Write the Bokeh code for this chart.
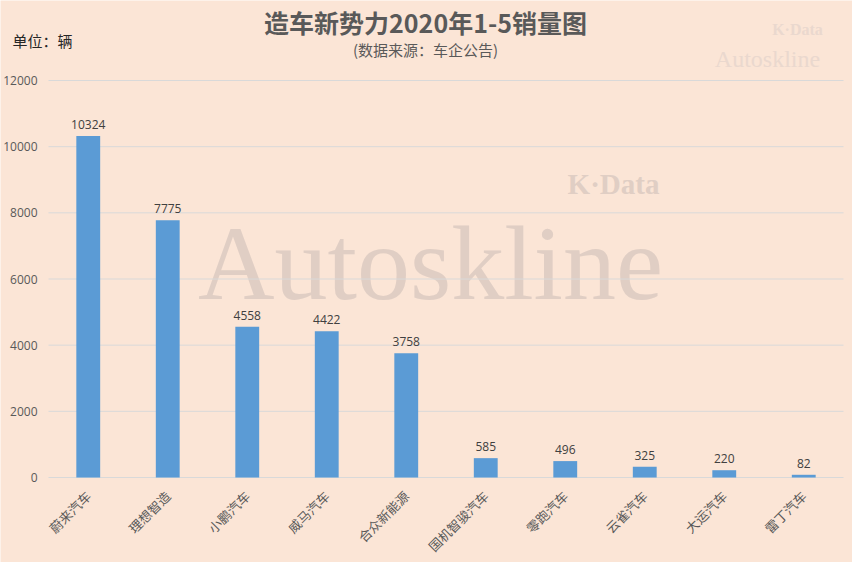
import math
from bokeh.plotting import figure
from bokeh.models import ColumnDataSource, Label, LabelSet, Range1d
from bokeh.core.properties import value
from bokeh.embed import file_html
from bokeh.resources import INLINE

# ---- data ----
brands = ["蔚来汽车", "理想智造", "小鹏汽车", "威马汽车", "合众新能源",
          "国机智骏汽车", "零跑汽车", "云雀汽车", "大运汽车", "雷丁汽车"]
sales = [10324, 7775, 4558, 4422, 3758, 585, 496, 325, 220, 82]
y_ticks = [0, 2000, 4000, 6000, 8000, 10000, 12000]

title_text = "造车新势力2020年1-5销量图"
subtitle_text = "(数据来源：车企公告)"
unit_text = "单位：辆"

BG = "#FBE5D6"
BAR = "#5B9BD5"
GRID = "#D9D9D9"
CJK = "Noto Sans CJK SC"
WM = "#E0CEC4"
WM2 = "#EAD8CE"

# ---- layout constants (pixels) ----
W, H = 852, 562
PL, PR = 48, 9          # plot-area left / right gaps
BASE_PX = 477           # canvas y of the zero line
TOP_PX = 80             # canvas y of the top gridline
CAT_GAP = 16            # gap between zero line and category label anchors
YMAX = 12000

n = len(brands)
pos = list(range(n))                       # category slots
step = (W - PL - PR) / n                   # px per category
x_lo = -0.5 - PL / step
x_hi = (n - 0.5) + PR / step
dpp = YMAX / (BASE_PX - TOP_PX)            # data units per pixel
y_lo = -(H - BASE_PX) * dpp
y_hi = YMAX + TOP_PX * dpp

src = ColumnDataSource(dict(x=pos, brand=brands, sales=sales,
                            lbl=[str(v) for v in sales]))
tick_src = ColumnDataSource(dict(y=y_ticks, lbl=[str(t) for t in y_ticks]))
cat_src = ColumnDataSource(dict(x=pos, brand=brands))

p = figure(width=W, height=H, x_range=Range1d(x_lo, x_hi),
           y_range=Range1d(y_lo, y_hi), output_backend="svg",
           toolbar_location=None, x_axis_type=None, y_axis_type=None,
           min_border=0)
p.background_fill_color = BG
p.border_fill_color = BG
p.outline_line_color = None
p.xgrid.visible = False
p.ygrid.visible = False

# labels positioned in canvas px from the top-left corner
def add_label(text, px, py, size, color, font, align="center",
              style="normal", baseline="middle", level="annotation"):
    p.add_layout(Label(x=px, y=H - py, x_units="screen",
                       y_units="screen", text=text, text_font=font,
                       text_font_size=size, text_color=color,
                       text_align=align, text_baseline=baseline,
                       text_font_style=style, level=level))

# big watermark behind everything
add_label("Autoskline", 430, 263, "106px", WM, "Liberation Serif",
          baseline="alphabetic", level="underlay")
add_label("K·Data", 613, 183, "29px", WM, "Liberation Serif",
          style="bold", level="underlay")

# horizontal gridlines across the plot area
p.segment(x0=-0.5, x1=n - 0.5, y0="y", y1="y", source=tick_src,
          line_color=GRID, line_width=1)

# bars
p.vbar(x="x", top="sales", width=0.3, source=src, color=BAR, line_color=None)

# value labels
p.add_layout(LabelSet(x="x", y="sales", text="lbl", source=src,
                      text_align="center", text_baseline="bottom", y_offset=7,
                      text_font=value("Open Sans"), text_font_size="12px",
                      text_color="#404040"))

# y tick labels
p.text(x=-0.5, y="y", text="lbl", source=tick_src, x_offset=-11,
       text_align="right", text_baseline="middle",
       text_font=value("Open Sans"), text_font_size="12px",
       text_color="#595959")

# category labels, rotated 45 degrees
p.text(x="x", y=-CAT_GAP * dpp, text="brand", source=cat_src,
       angle=math.pi / 4, text_align="right", text_baseline="middle",
       text_font=value(CJK), text_font_size="13px", text_color="#595959")

# header texts
add_label("K·Data", 797, 29, "16px", WM2, "Liberation Serif", style="bold")
add_label("Autoskline", 767, 58, "24px", WM2, "Liberation Serif")
add_label(title_text, 425, 21, "25px", "#595959", CJK, style="bold")
add_label(subtitle_text, 425, 49, "15px", "#595959", CJK)
add_label(unit_text, 12, 40, "15px", "#262626", CJK, align="left")

open("out.html", "w").write(file_html(p, INLINE))
